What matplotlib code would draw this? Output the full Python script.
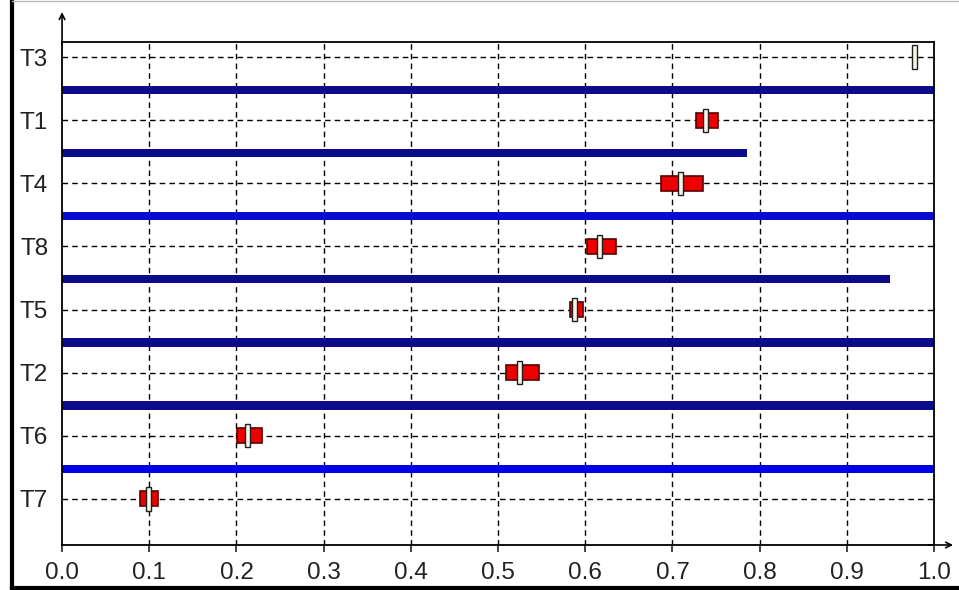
import matplotlib.pyplot as plt
from matplotlib.lines import Line2D

plt.rcParams['font.family'] = ['Liberation Sans', 'DejaVu Sans']

# tasks listed bottom -> top
tasks = ['T7', 'T6', 'T2', 'T5', 'T8', 'T4', 'T1', 'T3']
marks = [0.099, 0.213, 0.525, 0.588, 0.616, 0.709, 0.738, 0.978]
box_lo = [0.089, 0.201, 0.509, 0.582, 0.602, 0.687, 0.727, None]
box_hi = [0.110, 0.229, 0.547, 0.597, 0.635, 0.735, 0.752, None]
# separator bars between neighbouring rows (bottom -> top)
sep_end = [1.0, 1.0, 1.0, 0.95, 1.0, 0.785, 1.0]
sep_col = ['#0000e6', '#0c0c8a', '#0c0c8a', '#0c0c8a', '#0a0ad0', '#0c0c8a', '#0c0c8a']

fig = plt.figure(figsize=(9.59, 5.90), dpi=100)
ax = fig.add_axes([0.0647, 0.0763, 0.9093, 0.8525])

y = list(range(len(tasks)))

# grid first so marks sit on top
for xv in [0.1 * k for k in range(1, 10)]:
    ax.axvline(xv, color='black', lw=1, ls=(0, (4, 3)), zorder=1)
for yv in y:
    ax.axhline(yv, color='black', lw=1, ls=(0, (4, 3)), zorder=1)

# separators
for i, (end, c) in enumerate(zip(sep_end, sep_col)):
    ax.barh(i + 0.48, end, left=0, height=0.13, color=c, zorder=2)

# red boxes + white markers
for i in y:
    if box_lo[i] is not None:
        ax.barh(i, box_hi[i] - box_lo[i], left=box_lo[i], height=0.24,
                color='#ee0000', edgecolor='#5a0000', lw=1.2, zorder=3)
    ax.barh(i, 0.006, left=marks[i] - 0.003, height=0.37,
            color='#f4f4e8', edgecolor='#202020', lw=1, zorder=4)

ax.set_xlim(0, 1.0)
ax.set_ylim(-0.73, 7.24)
ax.set_xticks([0.1 * k for k in range(11)])
ax.set_xticklabels(['%.1f' % (0.1 * k) for k in range(11)])
ax.set_yticks(y)
ax.set_yticklabels(tasks)
ax.tick_params(axis='x', direction='out', length=5, width=1.2, pad=7, labelsize=17.5, colors='#222222')
ax.tick_params(axis='y', length=0, pad=10, labelsize=17.5, colors='#222222')
for s in ax.spines.values():
    s.set_linewidth(1.3)
    s.set_color('black')

# axis arrows
ax.annotate('', xy=(0, 1.065), xytext=(0, 0.99), xycoords='axes fraction',
            arrowprops=dict(arrowstyle='->', lw=1.2, color='black'), annotation_clip=False)
ax.annotate('', xy=(1.025, 0), xytext=(0.99, 0), xycoords='axes fraction',
            arrowprops=dict(arrowstyle='->', lw=1.2, color='black'), annotation_clip=False)

# window frame
fig.add_artist(Line2D([0.012, 0.012], [0.0, 1.0], color='black', lw=3, transform=fig.transFigure))
fig.add_artist(Line2D([0.012, 1.0], [0.004, 0.004], color='black', lw=3, transform=fig.transFigure))
fig.add_artist(Line2D([0.012, 1.0], [0.999, 0.999], color='#bbbbbb', lw=1, transform=fig.transFigure))

fig.savefig('out.png', dpi=100)
